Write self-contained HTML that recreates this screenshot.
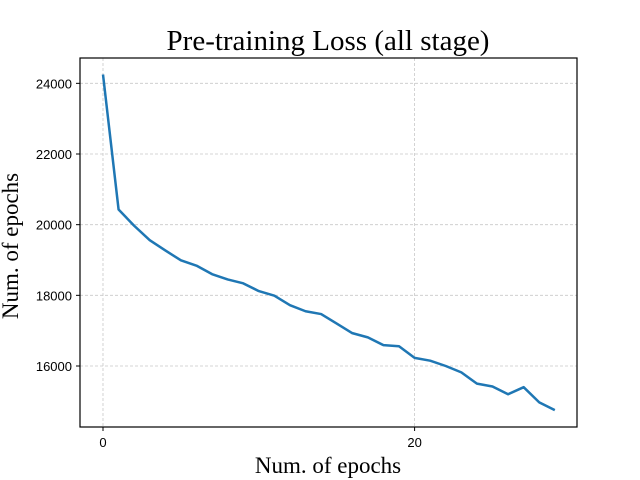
<!DOCTYPE html>
<html><head><meta charset="utf-8"><style>body{margin:0;background:#fff}svg{display:block}</style></head>
<body>
<svg id="chart" width="640" height="480">
<rect width="640" height="480" fill="#fff"/>
<g id="grid"></g>
<g id="ticks"></g>
<polyline id="line" fill="none" stroke="#1f77b4" stroke-width="2.5" stroke-linejoin="round"/>
<rect x="80" y="58" width="497" height="369" fill="none" stroke="#000" stroke-width="1.2"/>
<text x="328" y="50" text-anchor="middle" font-family="Liberation Serif, serif" font-size="29">Pre-training Loss (all stage)</text>
<text x="328" y="473" text-anchor="middle" font-family="Liberation Serif, serif" font-size="23">Num. of epochs</text>
<text transform="translate(18,246) rotate(-90)" text-anchor="middle" font-family="Liberation Serif, serif" font-size="23">Num. of epochs</text>
</svg>
<script>
const epochs=[0,1,2,3,4,5,6,7,8,9,10,11,12,13,14,15,16,17,18,19,20,21,22,23,24,25,26,27,28,29];
const losses=[24250,20430,19970,19560,19270,18990,18840,18600,18450,18340,18120,17990,17720,17550,17470,17200,16930,16810,16590,16560,16230,16150,16000,15820,15500,15420,15200,15400,14970,14750];
const xTicks=[0,20];
const yTicks=[16000,18000,20000,22000,24000];
const X=v=>103+v*15.58;
const Y=v=>366-(v-16000)*0.035333;
const ns="http://www.w3.org/2000/svg";
const grid=document.getElementById('grid'),ticks=document.getElementById('ticks');
function mk(t,a,p){const e=document.createElementNS(ns,t);for(const k in a)e.setAttribute(k,a[k]);p.appendChild(e);return e;}
yTicks.forEach(v=>{const y=Y(v);
const g=mk('line',{x1:80,x2:577,y1:y,y2:y,stroke:'#c8c8c8','stroke-width':0.8,'stroke-dasharray':'3,2'},grid);


mk('line',{x1:76,x2:80,y1:y,y2:y,stroke:'#000'},ticks);
const t=mk('text',{x:72,y:y+5,'text-anchor':'end','font-family':'Liberation Sans, sans-serif','font-size':13},ticks);t.textContent=v;

});
xTicks.forEach(v=>{const x=X(v);
const g=mk('line',{x1:x,x2:x,y1:58,y2:427,stroke:'#c8c8c8','stroke-width':0.8,'stroke-dasharray':'3,2'},grid);


mk('line',{x1:x,x2:x,y1:427,y2:431,stroke:'#000'},ticks);
const t=mk('text',{x:x,y:447,'text-anchor':'middle','font-family':'Liberation Sans, sans-serif','font-size':13},ticks);t.textContent=v;

});
document.getElementById('line').setAttribute('points',epochs.map((e,i)=>X(e)+','+Y(losses[i])).join(' '));
</script>
</body></html>
